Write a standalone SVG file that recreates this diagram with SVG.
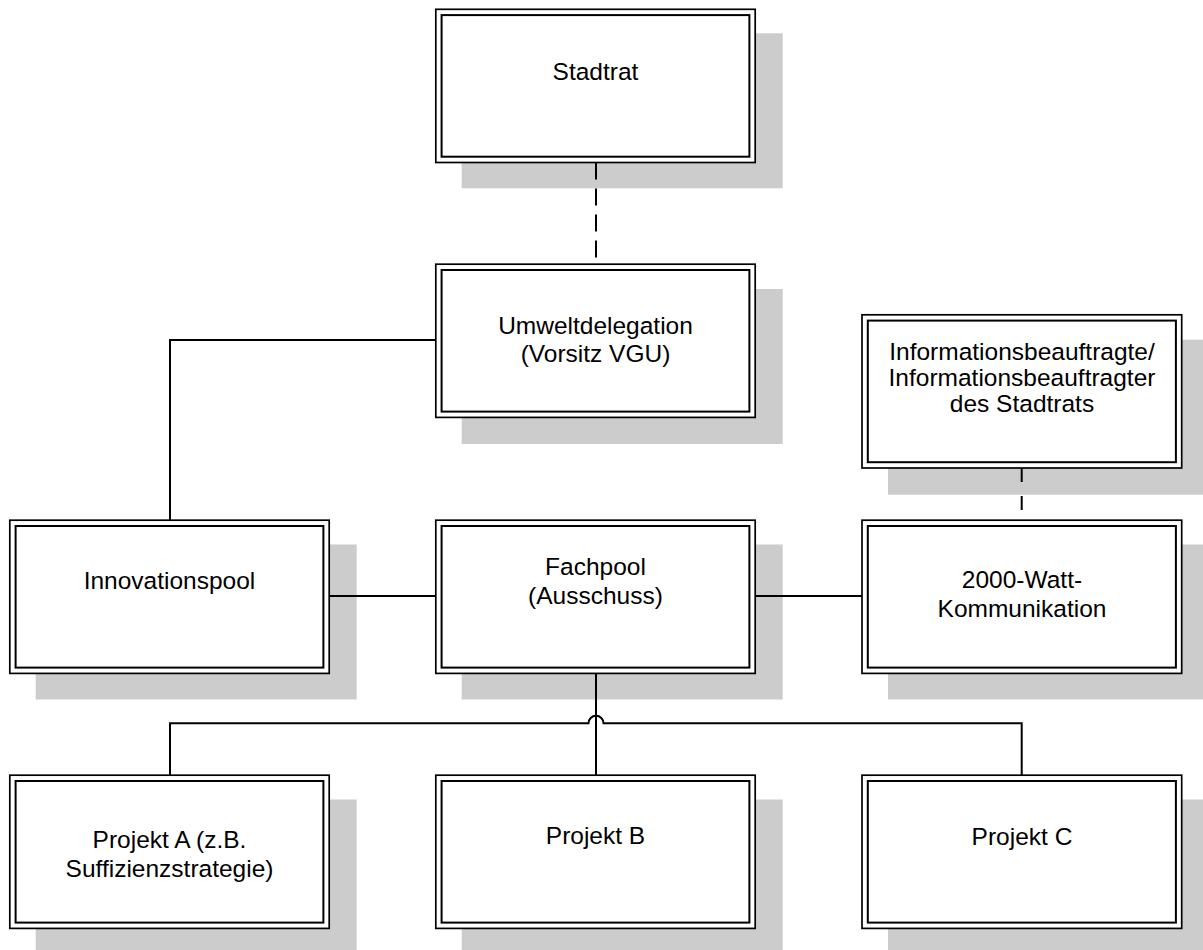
<svg xmlns="http://www.w3.org/2000/svg" width="1203" height="950" viewBox="0 0 1203 950">
<style>
.shadow{fill:#cccccc;stroke:none}
.outer{fill:#ffffff;stroke:#000;stroke-width:1.7}
.inner{fill:none;stroke:#000;stroke-width:2}
.lbl{font-family:"Liberation Sans",Arial,sans-serif;font-size:24.5px;fill:#000;text-anchor:middle}
.conn{fill:none;stroke:#000;stroke-width:2}
</style>
<rect width="1203" height="950" fill="#ffffff"/>
<g id="node-stadtrat">
<rect class="shadow" x="461.7" y="33.3" width="321" height="155"/>
<rect class="outer" x="435.8" y="9.3" width="319.4" height="153.2"/>
<rect class="inner" x="441.6" y="15.1" width="307.8" height="141.6"/>
<text class="lbl" x="595.5" y="80">Stadtrat</text>
</g>
<g id="node-umweltdelegation">
<rect class="shadow" x="461.7" y="289" width="321" height="155"/>
<rect class="outer" x="435.8" y="264.2" width="319.4" height="153.2"/>
<rect class="inner" x="441.6" y="270" width="307.8" height="141.6"/>
<text class="lbl" x="595.5" y="333.5">Umweltdelegation</text>
<text class="lbl" x="595.5" y="362.3">(Vorsitz VGU)</text>
</g>
<g id="node-informationsbeauftragte">
<rect class="shadow" x="888" y="339.7" width="321" height="155"/>
<rect class="outer" x="862" y="314.8" width="319.7" height="153.2"/>
<rect class="inner" x="867.8" y="320.6" width="308.1" height="141.6"/>
<text class="lbl" x="1022" y="360">Informationsbeauftragte/</text>
<text class="lbl" x="1022" y="386">Informationsbeauftragter</text>
<text class="lbl" x="1022" y="411.7">des Stadtrats</text>
</g>
<g id="node-innovationspool">
<rect class="shadow" x="35.7" y="544.5" width="321" height="155"/>
<rect class="outer" x="9.8" y="520.2" width="319.4" height="153.2"/>
<rect class="inner" x="15.6" y="526" width="307.8" height="141.6"/>
<text class="lbl" x="169.5" y="589.3">Innovationspool</text>
</g>
<g id="node-fachpool">
<rect class="shadow" x="461.7" y="544.5" width="321" height="155"/>
<rect class="outer" x="435.8" y="520.2" width="319.4" height="153.2"/>
<rect class="inner" x="441.6" y="526" width="307.8" height="141.6"/>
<text class="lbl" x="595.5" y="575">Fachpool</text>
<text class="lbl" x="595.5" y="604">(Ausschuss)</text>
</g>
<g id="node-kommunikation">
<rect class="shadow" x="888" y="544.5" width="321" height="155"/>
<rect class="outer" x="862" y="520.2" width="319.7" height="153.2"/>
<rect class="inner" x="867.8" y="526" width="308.1" height="141.6"/>
<text class="lbl" x="1022" y="588.3">2000-Watt-</text>
<text class="lbl" x="1022" y="617.3">Kommunikation</text>
</g>
<g id="node-projekt-a">
<rect class="shadow" x="35.7" y="799.5" width="321" height="155"/>
<rect class="outer" x="9.8" y="775.2" width="319.4" height="153.2"/>
<rect class="inner" x="15.6" y="781" width="307.8" height="141.6"/>
<text class="lbl" x="169.5" y="847.5">Projekt A (z.B.</text>
<text class="lbl" x="169.5" y="876.5">Suffizienzstrategie)</text>
</g>
<g id="node-projekt-b">
<rect class="shadow" x="461.7" y="799.5" width="321" height="155"/>
<rect class="outer" x="435.8" y="775.2" width="319.4" height="153.2"/>
<rect class="inner" x="441.6" y="781" width="307.8" height="141.6"/>
<text class="lbl" x="595.5" y="844">Projekt B</text>
</g>
<g id="node-projekt-c">
<rect class="shadow" x="888" y="799.5" width="321" height="155"/>
<rect class="outer" x="862" y="775.2" width="319.7" height="153.2"/>
<rect class="inner" x="867.8" y="781" width="308.1" height="141.6"/>
<text class="lbl" x="1022" y="845">Projekt C</text>
</g>
<g id="connectors">
<path class="conn" d="M596,162.5 V264.2" stroke-dasharray="17,9"/>
<path class="conn" d="M1021.7,468 V520.2" stroke-dasharray="14,14"/>
<path class="conn" d="M435.8,340 H170 V520.2"/>
<path class="conn" d="M329.2,596 H435.8"/>
<path class="conn" d="M755.2,596 H862"/>
<path class="conn" d="M596,673.4 V775.2"/>
<path class="conn" d="M170,775.2 V723.3 H588.5 A7.5,7.5 0 0 1 603.5,723.3 H1021.7 V775.2"/>
</g>
</svg>
